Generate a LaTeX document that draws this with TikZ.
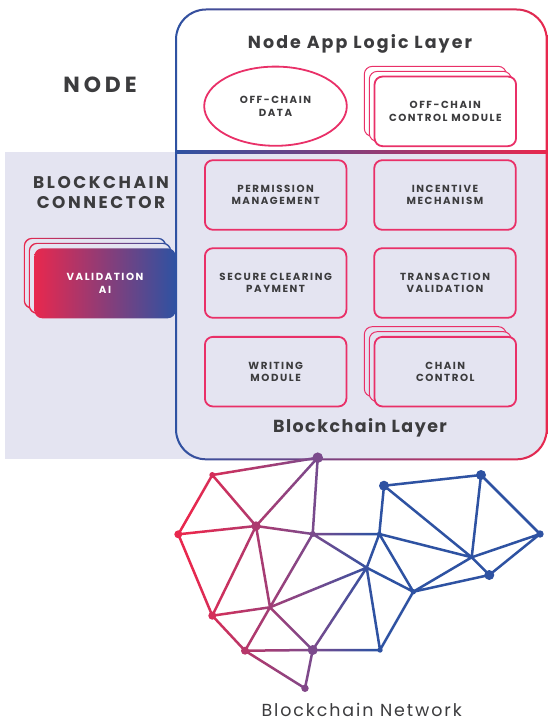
\documentclass[tikz,border=0pt]{standalone}
\usepackage{fontspec}
\setmainfont{Poppins}
\newfontfamily\lblfont[LetterSpace=15]{Poppins}
\newfontfamily\ttlfont[LetterSpace=12]{Poppins}
\newfontfamily\ttlbfont[LetterSpace=8.5]{Poppins}
\newfontfamily\bigfont[LetterSpace=15]{Poppins}
\newfontfamily\nodefont[LetterSpace=18]{Poppins}
\newfontfamily\netfont[LetterSpace=11]{Poppins}
\usetikzlibrary{calc,shapes.geometric}
\definecolor{cred}{RGB}{232,40,78}
\definecolor{cpur}{RGB}{123,74,140}
\definecolor{cblue}{RGB}{46,82,162}
\definecolor{cpink}{RGB}{233,48,104}
\definecolor{lav}{RGB}{228,228,241}
\definecolor{txt}{RGB}{60,60,62}
\pgfdeclarehorizontalshading{netgrad}{100bp}{color(0bp)=(cred); color(27bp)=(cred); color(43.5bp)=(cpur); color(52bp)=(cblue); color(100bp)=(cblue)}
\newcommand\gradring[4]{%
  \fill[lav,rounded corners=8bp] (#1,#2) rectangle (#3,#4);
  \shade[left color=cred,right color=cblue,even odd rule,rounded corners=8bp]
    (#1-0.5,#2-0.5) rectangle (#3+0.5,#4+0.5) (#1+0.5,#2+0.5) rectangle (#3-0.5,#4-0.5);}
\begin{document}
\begin{tikzpicture}[x=1bp,y=-1bp,
  lbl/.style={font=\lblfont\bfseries\fontsize{10.3}{12.4}\selectfont, text=txt, align=center, inner sep=0},
  pinkbox/.style={draw=cpink, line width=1.8bp, rounded corners=8bp, fill=lav,
     minimum width=141.5bp, minimum height=69.6bp, inner sep=0},
  backbox/.style={draw=cpink, line width=1bp, rounded corners=8bp, fill=lav,
     minimum width=142bp, minimum height=70bp, inner sep=0},
  ttl/.style={font=\ttlfont\bfseries\fontsize{17.5}{20}\selectfont, text=txt, inner sep=0},
  big/.style={font=\bigfont\bfseries\fontsize{17}{20.7}\selectfont, text=txt, inner sep=0, align=center},
]
\useasboundingbox (0,0) rectangle (551,728);
\fill[white] (0,0) rectangle (551,728);

% lavender band
\fill[lav] (5,151.7) rectangle (210,458.7);
\begin{scope}
  \clip[rounded corners=30bp] (176,9.5) rectangle (546.7,459.3);
  \fill[lav] (170,152) rectangle (550,465);
\end{scope}

% main box outline and divider
\shade[left color=cblue, right color=cred, even odd rule]
  [rounded corners=31bp] (175,8.5) rectangle (547.7,460.3)
  [rounded corners=29bp] (177,10.5) rectangle (545.7,458.3);
\shade[left color=cblue, right color=cred] (176,150.8) rectangle (546.7,153);

% titles
\node[ttl, anchor=base] (applayer) at (360,48.3) {Node App Logic Layer};
\node[ttl, font=\ttlbfont\bfseries\fontsize{17.5}{20}\selectfont, anchor=base] (bclayer) at (360,432.3) {Blockchain Layer};
\node[big, font=\nodefont\bfseries\fontsize{22}{24}\selectfont, anchor=base] (nodelbl) at (100,92.7) {NODE};
\node[big] (connlbl) at (101,192.5) {BLOCKCHAIN\\CONNECTOR};

% node app logic layer
\node[ellipse, draw=cpink, line width=1.8bp, fill=white, minimum width=142.6bp, minimum height=79.2bp, inner sep=0] (ocdata) at (275.5,106.2) {};
\node[lbl] at (ocdata.center) {OFF-CHAIN\\DATA};
\node[backbox, fill=white] (ocb2) at (435.3,101.35) {};
\node[backbox, fill=white] (ocb1) at (440.3,106.35) {};
\node[pinkbox, fill=white] (occtrl) at (445.3,111.35) {};
\node[lbl] at (occtrl.center) {OFF-CHAIN\\CONTROL MODULE};

% blockchain layer boxes
\node[pinkbox] (perm) at (275.65,195) {};
\node[lbl] at (perm.center) {PERMISSION\\MANAGEMENT};
\node[pinkbox] (incent) at (445,195) {};
\node[lbl] at (incent.center) {INCENTIVE\\MECHANISM};
\node[pinkbox] (secure) at (275.65,283) {};
\node[lbl] at (secure.center) {SECURE CLEARING\\PAYMENT};
\node[pinkbox] (trans) at (445,283) {};
\node[lbl] at (trans.center) {TRANSACTION\\VALIDATION};
\node[pinkbox] (writing) at (275.65,371.65) {};
\node[lbl] at (writing.center) {WRITING\\MODULE};
\node[backbox] (ccb2) at (435.3,361.65) {};
\node[backbox] (ccb1) at (440.3,366.65) {};
\node[pinkbox] (chain) at (445.3,371.65) {};
\node[lbl] at (chain.center) {CHAIN\\CONTROL};

% validation AI
\gradring{24.3}{238.3}{165.7}{308.3}
\gradring{29.3}{243.3}{170.7}{313.3}
\shade[left color=cred, right color=cblue, rounded corners=8bp] (34.3,248.3) rectangle (175.7,318.3);
\node[lbl, text=white] (valai) at (105,283.3) {VALIDATION\\AI};

% network
\coordinate (A) at (317.7,457.7);
\coordinate (B) at (212.3,475);
\coordinate (C) at (178.3,534.3);
\coordinate (D) at (256,526);
\coordinate (E) at (312.7,534);
\coordinate (F) at (384,485.7);
\coordinate (G) at (481,475);
\coordinate (H) at (540,534);
\coordinate (I) at (379.3,534);
\coordinate (J) at (366.7,567.7);
\coordinate (K) at (471.7,557.3);
\coordinate (L) at (489.3,575);
\coordinate (M) at (413.3,591.7);
\coordinate (N) at (270,607.3);
\coordinate (O) at (212.3,615.7);
\coordinate (P) at (245,650.7);
\coordinate (Q) at (312.7,650);
\coordinate (R) at (380,650);
\coordinate (S) at (305,688.3);

\shade[shading=netgrad]
  \foreach \a/\b in {A/B,A/D,A/E,B/C,B/D,C/D,C/O,D/O,D/N,D/E,E/I,E/J,E/N,N/J,N/O,N/P,N/Q,O/P,P/Q,P/S,Q/S,Q/R,Q/J,J/I,J/R,J/M,I/M,I/F,I/K,F/K,K/L,G/K,G/H,F/G,H/K,H/L,K/M,M/L,M/R}
  { ($(\a)!1.25bp!90:(\b)$) -- ($(\b)!1.25bp!-90:(\a)$) -- ($(\b)!1.25bp!90:(\a)$) -- ($(\a)!1.25bp!-90:(\b)$) -- cycle };

\fill[cpur] (A) circle (5.3bp);
\fill[cpur!18!cred] (B) circle (3bp);
\fill[cred] (C) circle (4bp);
\fill[cpur!54!cred] (D) circle (4.7bp);
\fill[cpur] (E) circle (3bp);
\fill[cblue] (F) circle (5bp);
\fill[cblue] (G) circle (5bp);
\fill[cblue] (H) circle (3.7bp);
\fill[cblue] (I) circle (2.4bp);
\fill[cblue!80!cpur] (J) circle (1.3bp);
\fill[cblue] (K) circle (1.3bp);
\fill[cblue] (L) circle (5bp);
\fill[cblue] (M) circle (2.7bp);
\fill[cpur!66!cred] (N) circle (1.3bp);
\fill[cpur!18!cred] (O) circle (4bp);
\fill[cpur!45!cred] (P) circle (4bp);
\fill[cpur] (Q) circle (5bp);
\fill[cblue] (R) circle (2.7bp);
\fill[cpur!94!cred] (S) circle (3.7bp);

\node[font=\netfont\fontsize{17.5}{20}\selectfont, text=txt, anchor=base, inner sep=0] (netlbl) at (361.7,716) {Blockchain Network};
\end{tikzpicture}
\end{document}
